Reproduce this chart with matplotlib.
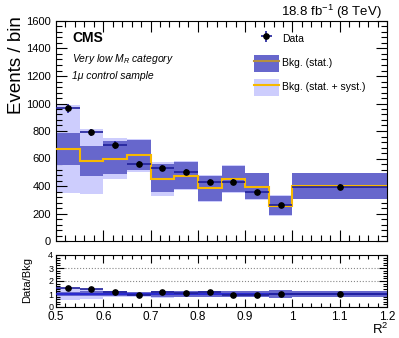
import numpy as np
import matplotlib
matplotlib.use("Agg")
import matplotlib.pyplot as plt
from matplotlib.patches import Patch
from matplotlib.lines import Line2D
from matplotlib.ticker import MultipleLocator

plt.rcParams['font.family'] = ['Liberation Sans', 'DejaVu Sans']
plt.rcParams['mathtext.fontset'] = 'custom'
plt.rcParams['mathtext.rm'] = 'Liberation Sans'
plt.rcParams['mathtext.it'] = 'Liberation Sans:italic'
plt.rcParams['mathtext.bf'] = 'Liberation Sans:bold'

# ---- data ----
bin_edges = [0.5, 0.55, 0.6, 0.65, 0.7, 0.75, 0.8, 0.85, 0.9, 0.95, 1.0, 1.2]
data_vals = [965, 790, 698, 560, 529, 504, 431, 431, 354, 259, 395]
data_err = [31, 28, 26, 24, 23, 22, 21, 21, 19, 16, 20]
bkg_vals = [669, 579, 599, 623, 451, 473, 383, 449, 395, 257, 400]
stat_lo = [553, 473, 487, 516, 354, 376, 291, 354, 303, 187, 308]
stat_hi = [788, 691, 730, 735, 560, 577, 475, 545, 492, 327, 492]
syst_lo = [351, 342, 451, 500, 327, 370, 285, 348, 297, 181, 302]
syst_hi = [989, 815, 747, 740, 572, 585, 481, 551, 498, 333, 498]

edges = np.array(bin_edges)
centers = 0.5 * (edges[:-1] + edges[1:])
halfw = 0.5 * (edges[1:] - edges[:-1])
data = np.array(data_vals, float)
derr = np.array(data_err, float)
bkg = np.array(bkg_vals, float)
slo, shi = np.array(stat_lo, float), np.array(stat_hi, float)
ylo, yhi = np.array(syst_lo, float), np.array(syst_hi, float)

DARK = '#6767cc'
LIGHT = '#cdcdfd'
YEL = '#f7b900'
EBLUE = '#1f1f9a'

W, H = 399, 338
fig = plt.figure(figsize=(W / 100, H / 100), dpi=100)
ax = fig.add_axes([56 / W, 1 - 241 / H, (387 - 56) / W, (241 - 21) / H])
rx = fig.add_axes([56 / W, 1 - 307 / H, (387 - 56) / W, (307 - 255) / H])

def bands(a, lo_s, hi_s, lo_y, hi_y):
    for i in range(len(centers)):
        a.fill_between([edges[i], edges[i + 1]], lo_y[i], hi_y[i], color=LIGHT, lw=0, zorder=1)
    for i in range(len(centers)):
        a.fill_between([edges[i], edges[i + 1]], lo_s[i], hi_s[i], color=DARK, lw=0, zorder=2)

bands(ax, slo, shi, ylo, yhi)
ax.stairs(bkg, edges, baseline=None, color=YEL, lw=1.5, zorder=3)
h_data = ax.errorbar(centers, data, xerr=halfw, yerr=derr, fmt='o', color='black', ms=3.8,
                     ecolor=EBLUE, elinewidth=1.2, capsize=0, zorder=5)

ax.set_xlim(0.5, 1.2)
ax.set_ylim(0, 1600)
ax.xaxis.set_major_locator(MultipleLocator(0.1))
ax.xaxis.set_minor_locator(MultipleLocator(0.02))
ax.yaxis.set_major_locator(MultipleLocator(200))
ax.yaxis.set_minor_locator(MultipleLocator(40))
ax.tick_params(which='both', direction='in', top=True, right=True, labelbottom=False)
ax.tick_params(which='major', length=8, width=0.8, labelsize=8)
ax.tick_params(which='minor', length=4, width=0.8)

# legend
h_stat = (Patch(facecolor=DARK, edgecolor='none'), Line2D([], [], color='#b59040', lw=1.5))
h_syst = (Patch(facecolor=LIGHT, edgecolor='none'), Line2D([], [], color=YEL, lw=1.5))
leg = ax.legend([h_data, h_stat, h_syst], ['Data', 'Bkg. (stat.)', 'Bkg. (stat. + syst.)'],
                loc='upper left', bbox_to_anchor=(0.585, 0.975), frameon=False,
                fontsize=7.5, handlelength=2.4, handleheight=2.1, labelspacing=0.7,
                handletextpad=0.3, borderaxespad=0)

fig.text(72 / W, 1 - 38 / H, 'CMS', fontsize=10, fontweight='bold', va='center', ha='left')
fig.text(72 / W, 1 - 59 / H, 'Very low $M_{R}$ category', fontsize=7.5, style='italic',
         va='center', ha='left')
fig.text(72 / W, 1 - 76 / H, '1\u03bc control sample', fontsize=7.5, style='italic',
         va='center', ha='left')
fig.text(382 / W, 1 - 12 / H, '18.8 fb$^{-1}$ (8 TeV)', fontsize=9.5, ha='right', va='center')
fig.text(17 / W, 1 - 16 / H, 'Events / bin', fontsize=13.5, rotation=90, ha='center', va='top')

# ratio
r = data / bkg
rerr = derr / bkg
bands(rx, slo / bkg, shi / bkg, ylo / bkg, yhi / bkg)
for yv in (1, 2, 3):
    rx.axhline(yv, color='#888888', ls=':', lw=0.8, zorder=0.5)
rx.axhline(1, color='#2020d0', lw=1.2, zorder=3)
rx.errorbar(centers, r, xerr=halfw, yerr=rerr, fmt='o', color='black', ms=3.8,
            ecolor=EBLUE, elinewidth=1.2, capsize=0, zorder=5)
rx.set_xlim(0.5, 1.2)
rx.set_ylim(0, 4)
rx.xaxis.set_major_locator(MultipleLocator(0.1))
rx.xaxis.set_minor_locator(MultipleLocator(0.02))
rx.yaxis.set_major_locator(MultipleLocator(1))
rx.yaxis.set_minor_locator(MultipleLocator(0.2))
rx.tick_params(which='both', direction='in', top=True, right=True)
rx.tick_params(which='major', length=6, width=0.8)
rx.tick_params(which='minor', length=3, width=0.8)
rx.tick_params(axis='x', labelsize=8.5, pad=3)
rx.tick_params(axis='y', labelsize=6.5, pad=2)
rx.set_xticks(np.arange(0.5, 1.21, 0.1))
rx.set_xticklabels(['0.5', '0.6', '0.7', '0.8', '0.9', '1', '1.1', '1.2'])
fig.text(27 / W, 1 - 280 / H, 'Data/Bkg', fontsize=8, rotation=90, ha='center', va='center')
fig.text(388 / W, 1 / H, 'R$^{2}$', fontsize=9.5, ha='right', va='bottom')

fig.savefig('out.png', dpi=100)
